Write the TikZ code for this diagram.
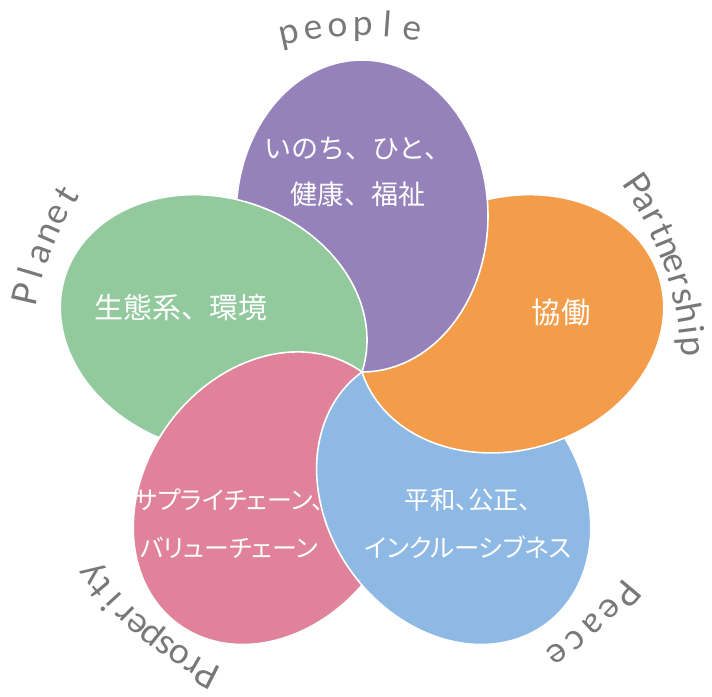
\documentclass[tikz,border=0pt]{standalone}
\usepackage{fontspec}
\newfontfamily\jpfont{Noto Sans CJK JP}
\newfontfamily\jpkana[RawFeature=+palt]{Noto Sans CJK JP}
\newfontfamily\lblfont{Lato}
\definecolor{cPurple}{HTML}{9682BA}
\definecolor{cOrange}{HTML}{F39C4A}
\definecolor{cGreen}{HTML}{92CA9E}
\definecolor{cPink}{HTML}{E0839A}
\definecolor{cBlue}{HTML}{8EB9E4}
\definecolor{cGray}{HTML}{787878}
\tikzset{
  petal/.style={insert path={plot[domain=0:360,samples=145,variable=\t]
    ({362+156*cos(#1)+156*cos(\t)*cos(#1)-126*sin(\t)*sin(#1)},
     {324+156*sin(#1)+156*cos(\t)*sin(#1)+126*sin(\t)*cos(#1)}) -- cycle}},
  outside/.style={insert path={(-100,-100) -- (-100,800) -- (800,800) -- (800,-100) -- cycle [petal=#1]}},
  jptext/.style={text=white, font=\jpfont, align=center, inner sep=0pt},
  jpkanatext/.style={text=white, font=\jpkana, align=center, inner sep=0pt},
  petalborder/.style={draw=white, line width=1.2pt},
  lblchar/.style={text=cGray, font=\lblfontsel, inner sep=0pt, anchor=base}
}
\newcommand\lblfontsel{\lblfont\fontsize{26.5}{26.5}\selectfont}
\newcommand\petalfill[4]{\begin{scope}\clip[outside=#3];\clip[outside=#4];\fill[#2,petal=#1];\end{scope}}
\newcommand\petalline[3]{\begin{scope}\clip[outside=#2];\clip[outside=#3];\path[petalborder,petal=#1];\end{scope}}
% one letter of a curved label: name, angle, radius (px), letter
\newcommand\placech[4]{\node[lblchar,rotate=#2-90] (#1) at ([shift={(#2:#3)}]362,324) {#4};}
\ExplSyntaxOn
\fp_new:N \l_arc_total_fp
\fp_new:N \l_arc_pos_fp
\fp_new:N \l_arc_w_fp
\fp_new:N \l_arc_gap_fp
\int_new:N \l_arc_n_int
\box_new:N \l_arc_box
% #1 name prefix, #2 centre angle, #3 baseline radius px, #4 span px, #5 word
\NewDocumentCommand \arcword { m m m m m }
 {
  \fp_zero:N \l_arc_total_fp
  \int_zero:N \l_arc_n_int
  \tl_map_inline:nn {#5}
   {
    \hbox_set:Nn \l_arc_box { \lblfontsel ##1 }
    \fp_add:Nn \l_arc_total_fp { \dim_to_fp:n { \box_wd:N \l_arc_box } }
    \int_incr:N \l_arc_n_int
   }
  \fp_set:Nn \l_arc_gap_fp { max( 0 , ( #4 * 0.75 - \l_arc_total_fp ) / ( \l_arc_n_int - 1 ) ) }
  \fp_set:Nn \l_arc_pos_fp { - ( \l_arc_total_fp + ( \l_arc_n_int - 1 ) * \l_arc_gap_fp ) / 2 }
  \int_zero:N \l_arc_n_int
  \tl_map_inline:nn {#5}
   {
    \hbox_set:Nn \l_arc_box { \lblfontsel ##1 }
    \fp_set:Nn \l_arc_w_fp { \dim_to_fp:n { \box_wd:N \l_arc_box } }
    \int_incr:N \l_arc_n_int
    \use:e
     {
      \exp_not:N \placech
       { #1 \int_use:N \l_arc_n_int }
       { \fp_eval:n { round( #2 - ( \l_arc_pos_fp + \l_arc_w_fp / 2 ) / ( #3 * 0.75 ) * 180 / pi , 3 ) } }
       { #3 }
       { \exp_not:n {##1} }
     }
    \fp_add:Nn \l_arc_pos_fp { \l_arc_w_fp + \l_arc_gap_fp }
   }
 }
\ExplSyntaxOff
\begin{document}
\begin{tikzpicture}[x=0.75pt,y=0.75pt]
\useasboundingbox (0,0) rectangle (712,696);
\fill[white] (0,0) rectangle (712,696);
% fills: each petal lies under its two counter-clockwise neighbours
\petalfill{90}{cPurple}{162}{234}
\petalfill{162}{cGreen}{234}{306}
\petalfill{234}{cPink}{306}{18}
\petalfill{306}{cBlue}{18}{90}
\petalfill{18}{cOrange}{90}{162}
\petalline{90}{162}{234}
\petalline{162}{234}{306}
\petalline{234}{306}{18}
\petalline{306}{18}{90}
\petalline{18}{90}{162}
% texts
\node[jptext,font=\jpfont\fontsize{20.3}{35}\selectfont] (tPeople) at (358,524) {いのち、ひと、\\健康、福祉};
\node[jptext,font=\jpfont\fontsize{21.6}{30}\selectfont] (tPlanet) at (181,389) {生態系、環境};
\node[jptext,font=\jpfont\fontsize{22}{30}\selectfont] (tPartner) at (561,384) {協働};
\node[jpkanatext,font=\jpkana\fontsize{18.7}{36}\selectfont] (tProsper) at (229,172) {サプライチェーン、\\バリューチェーン};
\node[jpkanatext,font=\jpkana\fontsize{19}{36}\selectfont] (tPeace) at (468,172) {平和、公正、\\インクルーシブネス};
% curved labels
\arcword{pe}{91.9}{336}{120}{people}
\arcword{pa}{19.2}{320}{166}{Partnership}
\arcword{pc}{-47.6}{333}{90}{Peace}
\arcword{pr}{229.8}{328}{150}{Prosperity}
\arcword{pl}{158.0}{333}{104}{Planet}
\end{tikzpicture}
\end{document}
